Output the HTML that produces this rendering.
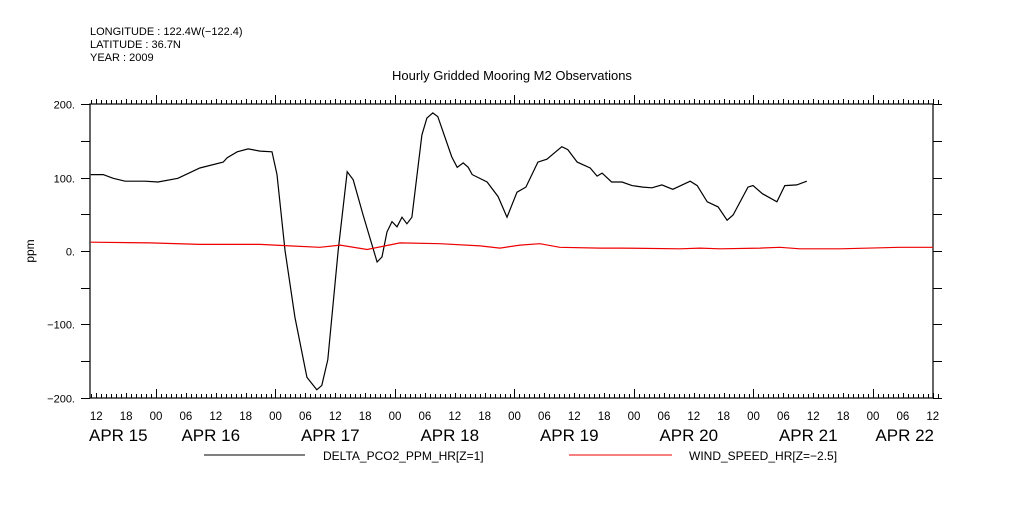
<!DOCTYPE html>
<html><head><meta charset="utf-8"><style>
body{margin:0;background:#fff;}
svg text{font-family:"Liberation Sans",sans-serif;fill:#000;}
</style></head><body>
<svg id="chart" width="1009" height="504" viewBox="0 0 1009 504" xmlns="http://www.w3.org/2000/svg">
<g font-size="11">
<text x="90" y="35">LONGITUDE : 122.4W(−122.4)</text>
<text x="90" y="48">LATITUDE : 36.7N</text>
<text x="90" y="61">YEAR : 2009</text>
</g>
<text x="512" y="80" font-size="13" text-anchor="middle">Hourly Gridded Mooring M2 Observations</text>
<text transform="translate(34,251) rotate(-90)" font-size="12" text-anchor="middle">ppm</text>
<g id="axes"></g>
<g id="series"></g>
<g font-size="12">
<line x1="204" y1="455" x2="305" y2="455" stroke="#000"/>
<text x="323" y="460">DELTA_PCO2_PPM_HR[Z=1]</text>
<line x1="569" y1="455" x2="672" y2="455" stroke="#e00"/>
<text x="689" y="460">WIND_SPEED_HR[Z=−2.5]</text>
</g>
</svg>
<script>
// hours since APR 15 00:00
const pco2Hours = [10.9,13.4,15.4,17.8,21.8,24.4,28.4,32.8,37.5,38.3,40.3,42.5,44.9,47.3,48.3,49.9,51.9,54.3,56.3,57.3,58.5,60.6,62.4,63.6,65.6,68.4,69.4,70.4,71.4,72.4,73.4,74.4,75.4,77.4,78.4,79.6,80.6,83.4,84.5,85.7,86.7,87.5,90.5,92.7,94.5,96.5,98.3,100.7,102.5,105.5,106.7,108.6,111.2,112.6,113.6,115.5,117.6,119.6,121.8,123.6,125.6,127.8,131.3,132.7,134.7,136.9,138.7,139.9,142.9,143.9,145.8,148.7,150.3,152.7,154.7];
const pco2Values = [104,104,99,95,95,94,99,113,121,127,135,139,136,135,104,1,-90,-172,-189,-183,-148,1,108,97,49,-15,-8,26,40,33,46,37,46,158,181,188,183,128,114,120,114,104,94,74,46,80,87,121,125,142,138,121,113,102,106,94,94,89,87,86,90,84,95,89,67,60,42,49,87,89,78,67,89,90,95];
const windHours = [10.9,22.8,32.8,44.9,50.9,56.9,61.0,66.4,70.0,73.0,81.0,89.1,93.1,97.1,101.1,105.1,113.2,117.2,129.2,133.3,137.3,145.3,149.3,153.3,161.4,173.4,180.1];
const windValues = [12,11,9,9,7,5,8,2,7,11,10,7,4,8,10,5,4,4,3,4,3,4,5,3,3,5,5];
const yTicks = [-200,-150,-100,-50,0,50,100,150,200];
const yTickLabels = ["-200.","","-100.","","0.","","100.","","200."];
const hourLabels = ["12","18","00","06","12","18","00","06","12","18","00","06","12","18","00","06","12","18","00","06","12","18","00","06","12","18","00","06","12"];
const dayLabels = ["APR 15","APR 16","APR 17","APR 18","APR 19","APR 20","APR 21","APR 22"];
const dayLabelHours = [11,35,59,83,107,131,155,179];

const X0=90,X1=933,Y0=104,Y1=398;
const xs=h=>156+(h-24)*4.979;
const ys=v=>251-v*0.7345;
const NS="http://www.w3.org/2000/svg";
function mk(tag,attrs,parent){const e=document.createElementNS(NS,tag);for(const k in attrs)e.setAttribute(k,attrs[k]);parent.appendChild(e);return e;}
const axes=document.getElementById('axes');
const frame=mk('rect',{x:X0,y:Y0,width:X1-X0,height:Y1-Y0,fill:'none',stroke:'#000','stroke-width':1.2},axes);


for(let h=11;h<=181;h++){
  const x=Math.round(xs(h))+0.5;
  const len=(h%24===0)?9:(h%6===0?5:4);
  const t1=mk('line',{x1:x,y1:Y1,x2:x,y2:Y1-len,stroke:'#000'},axes);
  
  
  const t2=mk('line',{x1:x,y1:Y0,x2:x,y2:Y0-len,stroke:'#000'},axes);
  
  
}
hourLabels.forEach((lab,i)=>{
  const t=mk('text',{x:xs(12+i*6),y:420,'font-size':11.5,'text-anchor':'middle'},axes);
  t.textContent=lab;
  
  
});
dayLabels.forEach((lab,i)=>{
  let x=xs(dayLabelHours[i]),anchor='middle';
  if(x-30<X0){x=X0-1;anchor='start';}
  if(x+30>X1){x=X1+1;anchor='end';}
  const t=mk('text',{x:x,y:441,'font-size':17,'text-anchor':anchor},axes);
  t.textContent=lab;
  
  
});
yTicks.forEach((v,i)=>{
  const y=Math.round(ys(v))+0.5;
  const a=mk('line',{x1:X0-9,y1:y,x2:X0,y2:y,stroke:'#000'},axes);
  
  
  const b=mk('line',{x1:X1,y1:y,x2:X1+9,y2:y,stroke:'#000'},axes);
  
  
  if(yTickLabels[i]){
    const t=mk('text',{x:75,y:y+4,'font-size':11,'text-anchor':'end'},axes);
    t.textContent=yTickLabels[i].replace('-','−');
    
    
  }
});
const series=document.getElementById('series');
const p1=mk('polyline',{points:pco2Hours.map((h,i)=>xs(h).toFixed(1)+','+ys(pco2Values[i]).toFixed(1)).join(' '),fill:'none',stroke:'#000','stroke-width':1.2},series);


const p2=mk('polyline',{points:windHours.map((h,i)=>xs(h).toFixed(1)+','+ys(windValues[i]).toFixed(1)).join(' '),fill:'none',stroke:'#e00','stroke-width':1.2},series);


</script>
</body></html>
